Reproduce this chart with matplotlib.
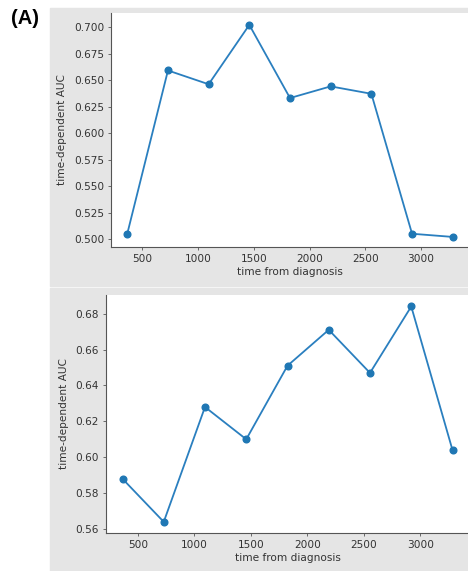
import matplotlib
matplotlib.use("Agg")
import matplotlib.pyplot as plt
from matplotlib.patches import Rectangle

# time points (days from diagnosis) and AUC for both models
days = [365, 730, 1095, 1460, 1825, 2190, 2555, 2920, 3285]
auc_top = [0.505, 0.659, 0.646, 0.702, 0.633, 0.644, 0.637, 0.505, 0.502]
auc_bottom = [0.588, 0.564, 0.628, 0.610, 0.651, 0.671, 0.647, 0.684, 0.604]

yticks_top = [0.500, 0.525, 0.550, 0.575, 0.600, 0.625, 0.650, 0.675, 0.700]
yticks_bottom = [0.56, 0.58, 0.60, 0.62, 0.64, 0.66, 0.68]
xticks = [500, 1000, 1500, 2000, 2500, 3000]

W, H = 468, 571
fig = plt.figure(figsize=(W / 100, H / 100), dpi=100, facecolor="white")

# grey notebook-style backgrounds behind each plot
grey = "#e5e5e5"
fig.patches.append(Rectangle((50 / W, 1 - 286 / H), 1, (286 - 8) / H,
                             transform=fig.transFigure, color=grey, zorder=-10))
fig.patches.append(Rectangle((50 / W, 0), 1, 1 - 288 / H,
                             transform=fig.transFigure, color=grey, zorder=-10))


def make_axes(left, right, top, bottom):
    return fig.add_axes([left / W, 1 - bottom / H, (right - left) / W, (bottom - top) / H])


def style(ax, y, yticks, fmt):
    ax.plot(days, y, color="#2a7fbf", lw=1.3, marker="o", ms=4.8,
            markerfacecolor="#1f77b4", markeredgecolor="#1f77b4")
    ax.set_facecolor("white")
    ax.spines["top"].set_visible(False)
    ax.spines["right"].set_visible(False)
    for s in ("left", "bottom"):
        ax.spines[s].set_linewidth(0.8)
        ax.spines[s].set_color("#555555")
    ax.set_xticks(xticks)
    ax.set_yticks(yticks)
    ax.set_yticklabels([fmt % v for v in yticks])
    ax.tick_params(labelsize=7.6, length=2.5, width=0.6, pad=2.5,
                   colors="#555555", labelcolor="#333333")
    ax.set_xlabel("time from diagnosis", fontsize=7.6, color="#333333", labelpad=2.5)
    ax.set_ylabel("time-dependent AUC", fontsize=7.6, color="#333333", labelpad=5)


ax1 = make_axes(111, 469, 13, 247)
style(ax1, auc_top, yticks_top, "%.3f")
ax1.set_ylim(0.4925, 0.7132)

ax2 = make_axes(106, 469, 295, 533)
style(ax2, auc_bottom, yticks_bottom, "%.2f")
ax2.set_ylim(0.5578, 0.6904)

fig.text(25 / W, 1 - 18 / H, "(A)", fontsize=14.5, fontweight="bold",
         family="Liberation Sans", ha="center", va="center")

fig.savefig("out.png", dpi=100, facecolor="white")
